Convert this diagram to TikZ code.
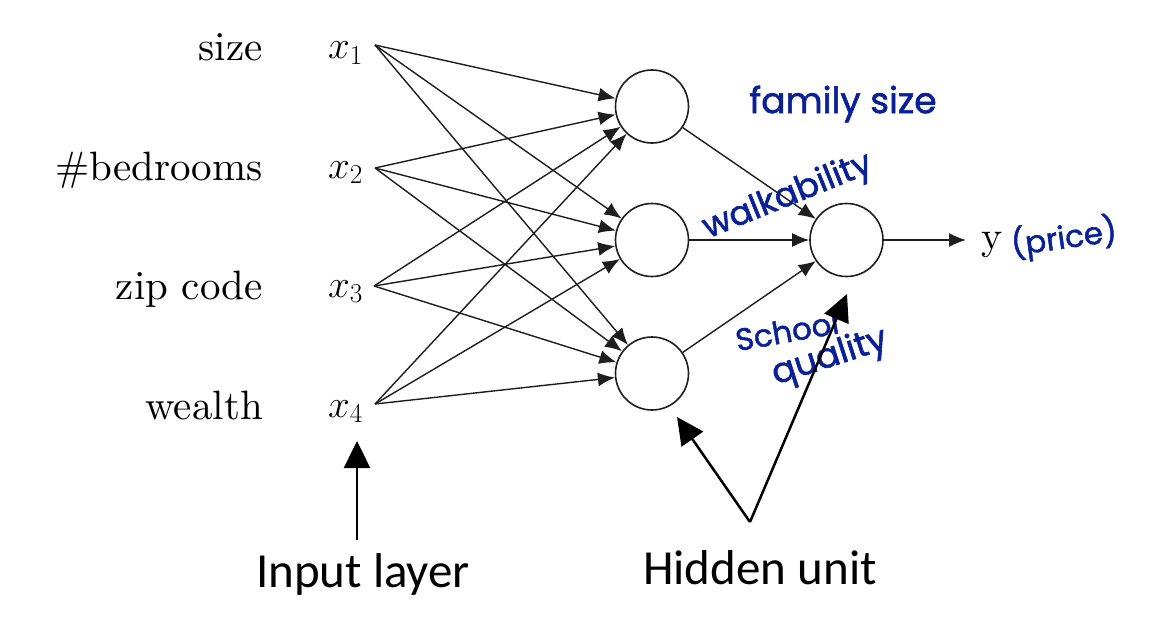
\RequirePackage{fix-cm}
\documentclass[tikz,border=0pt]{standalone}
\usepackage{fontspec}
\newfontfamily\calib{Carlito}
\newfontfamily\hand[FakeBold=1.6]{Poppins}
\newfontfamily\cmten{lmroman10-regular}[Extension=.otf]
\usetikzlibrary{arrows.meta}
\definecolor{ink}{RGB}{10,32,150}
\definecolor{edgec}{RGB}{30,30,30}
\begin{document}
\begin{tikzpicture}[x=1pt,y=-1pt,
  lab/.style={anchor=base east,inner sep=0pt,font=\cmten\fontsize{41}{48}\selectfont},
  xin/.style={anchor=base west,inner sep=0pt,font=\fontsize{39}{44}\selectfont},
  unit/.style={circle,draw=edgec,line width=1.6pt,minimum size=73pt,inner sep=0pt},
  conn/.style={draw=edgec,line width=1.4pt,-{Latex[length=17pt,width=14pt]}},
  bigarrow/.style={draw=black,line width=2.5pt,-{Triangle[length=27pt,width=26pt]}},
  handw/.style={text=ink,inner sep=0pt},
  bottomlab/.style={anchor=base,inner sep=0pt,font=\calib\fontsize{49}{56}\selectfont}
]
\path[use as bounding box,fill=white] (0,0) rectangle (1154,618);

% input labels
\node[lab] (l1) at (263,61) {size};
\node[lab] (l2) at (263,180) {\#bedrooms};
\node[lab] (l3) at (263,299) {zip code};
\node[lab] (l4) at (263,419) {wealth};
\node[xin] (x1) at (328,59) {$x_1$};
\node[xin] (x2) at (328,178) {$x_2$};
\node[xin] (x3) at (328,297) {$x_3$};
\node[xin] (x4) at (328,417) {$x_4$};

% edge start points
\coordinate (s1) at (375,45);
\coordinate (s2) at (375,168);
\coordinate (s3) at (374,286);
\coordinate (s4) at (375,404);

% units
\node[unit] (h1) at (652,106.5) {};
\node[unit] (h2) at (652,240) {};
\node[unit] (h3) at (652,373.5) {};
\node[unit] (o) at (846.5,240) {};

\foreach \s in {1,2,3,4}{
  \foreach \h in {1,2,3}{
    \draw[conn] (s\s) -- (h\h);
  }
}
\foreach \h in {1,2,3}{
  \draw[conn] (h\h) -- (o);
}
\coordinate (yend) at (966,240);
\draw[conn] (o) -- (yend);
\node[anchor=base west,inner sep=0pt,font=\cmten\fontsize{40}{44}\selectfont] (ylab) at (981,249) {y};

% handwriting
\node[handw,font=\hand\fontsize{36}{40}\selectfont] (fam) at (843,104) {family size};
\node[handw,rotate=22,font=\hand\fontsize{34}{36}\selectfont] (walk) at (788,197) {walkability};
\node[handw,rotate=8,font=\hand\fontsize{31}{36}\selectfont] (price) at (1064,238) {(price)};
\node[handw,rotate=10,font=\hand\fontsize{31}{34}\selectfont] (school) at (787,331) {School};
\node[handw,rotate=18,font=\hand\fontsize{35}{38}\selectfont] (qual) at (830,358) {quality};

% pointer arrows
\coordinate (ia) at (357,540);
\coordinate (it) at (357,441);
\draw[bigarrow] (ia) -- (it);
\coordinate (hv) at (750,522);
\coordinate (ht1) at (677,417);
\coordinate (ht2) at (847,294);
\draw[bigarrow] (hv) -- (ht1);
\draw[bigarrow] (hv) -- (ht2);

\node[bottomlab] (inl) at (363,587) {Input layer};
\node[bottomlab] (hid) at (760,584) {Hidden unit};
\end{tikzpicture}
\end{document}
